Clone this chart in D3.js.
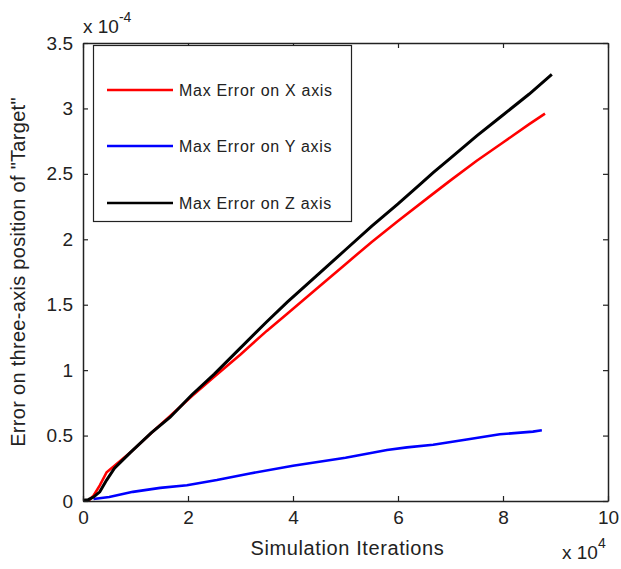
<!DOCTYPE html>
<html>
<head>
<meta charset="utf-8">
<script src="https://cdn.jsdelivr.net/npm/d3@7"></script>
<style>
  body { margin: 0; background: #fff; }
  text { font-family: "Liberation Sans", Arial, sans-serif; fill: #222; }
</style>
</head>
<body>
<div id="chart"></div>
<script>
/* CONSTANTS AND GLOBALS */
const width = 621,
  height = 569,
  margin = { top: 43, bottom: 68, left: 83, right: 13 };

/* DATA (x in 1e4 iterations, y in 1e-4) */
const seriesNames = ["Max Error on X axis", "Max Error on Y axis", "Max Error on Z axis"];
const seriesColors = ["#ff0000", "#0000ff", "#000000"];

const xErrX = [0.1, 0.2, 0.32, 0.45, 0.6, 0.9, 1.3, 1.66, 2.07, 2.5, 3.0, 3.5, 3.89, 4.5, 5.0, 5.5, 6.0, 6.61, 7.0, 7.5, 8.0, 8.5, 8.8];
const yErrX = [0.0, 0.04, 0.12, 0.22, 0.27, 0.37, 0.52, 0.65, 0.80, 0.95, 1.12, 1.30, 1.43, 1.64, 1.81, 1.98, 2.14, 2.33, 2.45, 2.60, 2.74, 2.88, 2.96];

const xErrY = [0.2, 0.5, 0.95, 1.47, 1.98, 2.55, 3.18, 4.0, 5.0, 5.79, 6.17, 6.67, 7.31, 7.94, 8.57, 8.74];
const yErrY = [0.015, 0.03, 0.07, 0.10, 0.12, 0.16, 0.21, 0.27, 0.33, 0.39, 0.41, 0.43, 0.47, 0.51, 0.53, 0.54];

const xErrZ = [0, 0.1, 0.2, 0.32, 0.45, 0.6, 0.9, 1.3, 1.66, 2.07, 2.5, 3.0, 3.5, 3.89, 4.5, 5.0, 5.5, 6.0, 6.42, 6.67, 7.0, 7.5, 8.0, 8.5, 8.93];
const yErrZ = [0.005, 0.01, 0.03, 0.07, 0.16, 0.25, 0.37, 0.52, 0.64, 0.81, 0.97, 1.17, 1.37, 1.52, 1.74, 1.92, 2.10, 2.27, 2.42, 2.51, 2.62, 2.79, 2.95, 3.11, 3.26];

const xTicks = [0, 2, 4, 6, 8, 10];
const yTicks = [0, 0.5, 1, 1.5, 2, 2.5, 3, 3.5];

const series = [
  { name: seriesNames[0], color: seriesColors[0], values: xErrX.map((x, i) => ({ x, y: yErrX[i] })) },
  { name: seriesNames[1], color: seriesColors[1], values: xErrY.map((x, i) => ({ x, y: yErrY[i] })) },
  { name: seriesNames[2], color: seriesColors[2], values: xErrZ.map((x, i) => ({ x, y: yErrZ[i] })) }
];

/* SVG */
const svg = d3.select("#chart").append("svg")
  .attr("width", width)
  .attr("height", height);

// scales
const xScale = d3.scaleLinear()
  .domain([0, 10])
  .range([margin.left, width - margin.right]);

const yScale = d3.scaleLinear()
  .domain([0, 3.5])
  .range([height - margin.bottom, margin.top]);

// lines (drawn first so the axes box sits on top)
const lineFunction = d3.line()
  .x(d => xScale(d.x))
  .y(d => yScale(d.y));

svg.selectAll("path.line")
  .data(series)
  .join("path")
  .attr("class", "line")
  .attr("fill", "none")
  .attr("stroke", d => d.color)
  .attr("stroke-width", d => d.color === "#000000" ? 3 : 2.6)
  .attr("d", d => lineFunction(d.values));

// axes - MATLAB style box with inward ticks
const tickSize = 5;
const fmt = d3.format("~g");
const xAxis = d3.axisBottom(xScale).tickValues(xTicks).tickFormat(fmt).tickSizeInner(-tickSize).tickSizeOuter(0).tickPadding(10);
const yAxis = d3.axisLeft(yScale).tickValues(yTicks).tickFormat(fmt).tickSizeInner(-tickSize).tickSizeOuter(0).tickPadding(10);
const xAxisTop = d3.axisTop(xScale).tickValues(xTicks).tickSizeInner(-tickSize).tickSizeOuter(0).tickFormat("");
const yAxisRight = d3.axisRight(yScale).tickValues(yTicks).tickSizeInner(-tickSize).tickSizeOuter(0).tickFormat("");

svg.append("g")
  .attr("transform", `translate(0,${height - margin.bottom})`)
  .call(xAxis);
svg.append("g")
  .attr("transform", `translate(${margin.left},0)`)
  .call(yAxis);
svg.append("g")
  .attr("transform", `translate(0,${margin.top})`)
  .call(xAxisTop);
svg.append("g")
  .attr("transform", `translate(${width - margin.right},0)`)
  .call(yAxisRight);

svg.selectAll(".domain").attr("stroke", "#222").attr("stroke-width", 1.5);
svg.selectAll(".tick line").attr("stroke", "#222").attr("stroke-width", 1.2);
svg.selectAll(".tick text")
  .attr("font-size", 19)
  .attr("font-family", "Liberation Sans, Arial, sans-serif")
  .attr("fill", "#222");

// exponent labels
svg.append("text")
  .attr("x", margin.left)
  .attr("y", 33)
  .attr("font-size", 19)
  .html('x 10<tspan dy="-11" font-size="14">-4</tspan>');

svg.append("text")
  .attr("x", 562)
  .attr("y", 559)
  .attr("font-size", 19)
  .html('x 10<tspan dy="-11" font-size="14">4</tspan>');

// axis titles
svg.append("text")
  .attr("x", (margin.left + width - margin.right) / 2 + 2)
  .attr("y", 555)
  .attr("text-anchor", "middle")
  .attr("font-size", 20)
  .attr("letter-spacing", 0.6)
  .text("Simulation Iterations");

svg.append("text")
  .attr("transform", `translate(25,${(margin.top + height - margin.bottom) / 2}) rotate(-90)`)
  .attr("text-anchor", "middle")
  .attr("font-size", 20)
  .attr("letter-spacing", 0.3)
  .text('Error on three-axis position of "Target"');

// legend
const legend = svg.append("g");
legend.append("rect")
  .attr("x", 93.5)
  .attr("y", 45.5)
  .attr("width", 258)
  .attr("height", 176)
  .attr("fill", "#fff")
  .attr("stroke", "#222")
  .attr("stroke-width", 1.2);

const legendY = [90, 146, 203];
const items = legend.selectAll("g.item")
  .data(series)
  .join("g")
  .attr("class", "item")
  .attr("transform", (d, i) => `translate(0,${legendY[i]})`);

items.append("line")
  .attr("x1", 107)
  .attr("x2", 173)
  .attr("stroke", d => d.color)
  .attr("stroke-width", 2.6);

items.append("text")
  .attr("x", 179)
  .attr("dy", "0.35em")
  .attr("font-size", 16)
  .attr("letter-spacing", 0.7)
  .text(d => d.name);
</script>
</body>
</html>
